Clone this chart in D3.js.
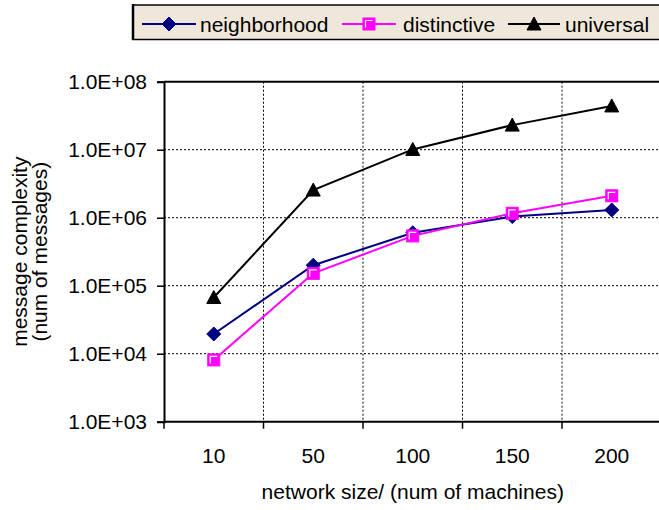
<!DOCTYPE html>
<html><head><meta charset="utf-8">
<script src="https://cdn.jsdelivr.net/npm/d3@7"></script>
<style>body{margin:0;background:#fff;}svg{display:block;font-family:"Liberation Sans",Arial,sans-serif;}</style>
</head><body><svg id="c" width="659" height="510"></svg>
<script>
const categories = ["10","50","100","150","200"];
const neighborhood = [1.95e4, 2.0e5, 6.0e5, 1.04e6, 1.3e6];
const distinctive = [8.1e3, 1.52e5, 5.4e5, 1.16e6, 2.1e6];
const universal = [6.7e4, 2.55e6, 1.01e7, 2.3e7, 4.4e7];
const yTicks = [1e3, 1e4, 1e5, 1e6, 1e7, 1e8];
const yTickLabels = ["1.0E+03","1.0E+04","1.0E+05","1.0E+06","1.0E+07","1.0E+08"];
const seriesNames = ["neighborhood","distinctive","universal"];

const FS = 21;
const svg = d3.select("#c");
const L = 164, R = 661.5, T = 81.7, B = 421.7;
const x = d3.scaleBand().domain(categories).range([L, R]).padding(0);
const y = d3.scaleLog().domain([1e3, 1e8]).range([B, T]);

const series = [
  {name: seriesNames[0], values: neighborhood, color: "#000080", marker: "diamond"},
  {name: seriesNames[1], values: distinctive, color: "#ff00ff", marker: "square"},
  {name: seriesNames[2], values: universal, color: "#000000", marker: "triangle"}
];

const g = svg.append("g");
g.selectAll(".hg").data(yTicks.slice(1,-1)).enter().append("line")
  .attr("x1", L).attr("x2", R).attr("y1", d => y(d)).attr("y2", d => y(d))
  .attr("stroke", "#000").attr("stroke-width", 1).attr("stroke-dasharray", "2,2");
const bounds = categories.slice(1).map(c => x(c));
g.selectAll(".vg").data(bounds).enter().append("line")
  .attr("x1", d => d).attr("x2", d => d).attr("y1", T).attr("y2", B)
  .attr("stroke", "#000").attr("stroke-width", 1).attr("stroke-dasharray", "2,2");
g.append("line").attr("x1", L).attr("x2", R).attr("y1", y(1e8)).attr("y2", y(1e8)).attr("stroke", "#000").attr("stroke-width", 2);

const yAxis = d3.axisLeft(y).tickValues(yTicks).tickSize(7).tickPadding(10)
  .tickFormat(d => yTickLabels[yTicks.indexOf(d)]);
const ya = svg.append("g").attr("transform", `translate(${L},0)`).call(yAxis);
ya.select(".domain").attr("stroke-width", 2);
ya.selectAll(".tick line").attr("stroke-width", 1.5);
ya.selectAll("text").attr("font-size", FS).attr("fill", "#000").attr("font-family", "Liberation Sans, Arial, sans-serif");

const xa = svg.append("g").attr("transform", `translate(0,${B})`);
xa.append("line").attr("x1", L).attr("x2", R).attr("y1", 0).attr("y2", 0).attr("stroke", "#000").attr("stroke-width", 2);
xa.selectAll(".xt").data([L].concat(bounds)).enter().append("line")
  .attr("x1", d => d).attr("x2", d => d).attr("y1", 0).attr("y2", 7).attr("stroke", "#000").attr("stroke-width", 1.5);
xa.selectAll(".xl").data(categories).enter().append("text")
  .attr("x", d => x(d) + x.bandwidth()/2).attr("y", 41.5).attr("text-anchor", "middle")
  .attr("font-size", FS).text(d => d);

svg.append("text").attr("x", (L+R)/2).attr("y", 499).attr("text-anchor", "middle").attr("font-size", FS)
  .text("network size/ (num of machines)");
const yt = svg.append("text").attr("transform", `translate(0,${(T+B)/2}) rotate(-90)`).attr("text-anchor", "middle").attr("font-size", FS);
yt.append("tspan").attr("x", 0).attr("y", 27).text("message complexity");
yt.append("tspan").attr("x", 0).attr("y", 47).text("(num of messages)");

function drawMarker(sel, type, color) {
  if (type === "diamond") {
    sel.append("path").attr("d", "M0,-7L7,0L0,7L-7,0Z").attr("fill", color).attr("stroke", color);
  } else if (type === "square") {
    sel.append("rect").attr("x", -6).attr("y", -6).attr("width", 12).attr("height", 12).attr("fill", color).attr("stroke", color);
    sel.append("path").attr("d", "M-3.5,3.5V-3.5H3.5").attr("fill", "none").attr("stroke", "#fff").attr("stroke-width", 1.2);
  } else {
    sel.append("path").attr("d", "M0,-7L7,6L-7,6Z").attr("fill", color).attr("stroke", color);
  }
}

const line = d3.line().x((d,i) => x(categories[i]) + x.bandwidth()/2).y(d => y(d));
series.forEach(s => {
  svg.append("path").datum(s.values).attr("d", line).attr("fill", "none").attr("stroke", s.color).attr("stroke-width", 2);
});
series.forEach(s => {
  s.values.forEach((v,i) => {
    const m = svg.append("g").attr("transform", `translate(${x(categories[i]) + x.bandwidth()/2},${y(v)})`);
    drawMarker(m, s.marker, s.color);
  });
});

const lg = svg.append("g");
lg.append("rect").attr("x", 133).attr("y", 5).attr("width", 540).attr("height", 34.5)
  .attr("fill", "#efe8da").attr("stroke", "#000").attr("stroke-width", 1.5);
lg.append("line").attr("x1", 133).attr("x2", 133).attr("y1", 4).attr("y2", 40).attr("stroke", "#000").attr("stroke-width", 2.5);
const legPos = [{x0: 142, x1: 196, tx: 200}, {x0: 342, x1: 396, tx: 403}, {x0: 508, x1: 560, tx: 565}];
series.forEach((s, i) => {
  const p = legPos[i];
  lg.append("line").attr("x1", p.x0).attr("x2", p.x1).attr("y1", 24).attr("y2", 24).attr("stroke", s.color).attr("stroke-width", 2);
  const m = lg.append("g").attr("transform", `translate(${(p.x0+p.x1)/2},24)`);
  drawMarker(m, s.marker, s.color);
  lg.append("text").attr("x", p.tx).attr("y", 32).attr("font-size", FS).text(s.name);
});
</script></body></html>
